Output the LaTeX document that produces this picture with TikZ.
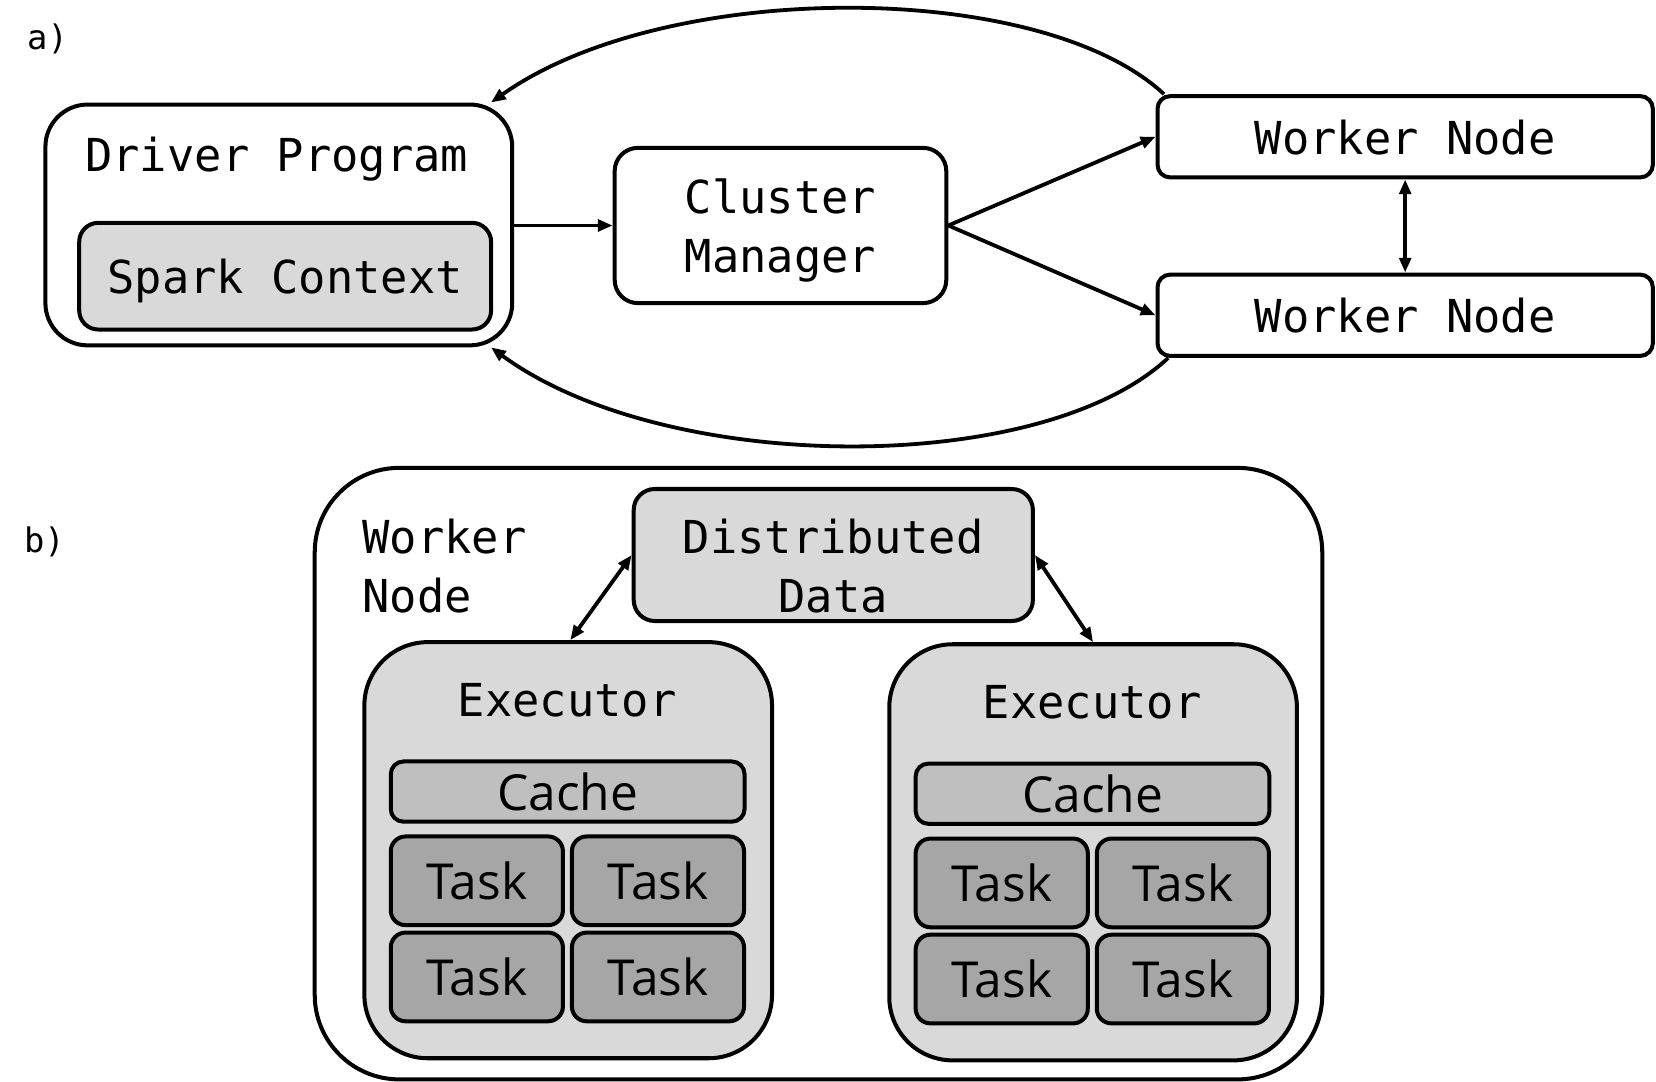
\documentclass[tikz,border=0pt]{standalone}
\usepackage{fontspec}
\usetikzlibrary{arrows.meta}
\setmonofont{DejaVu Sans Mono}
\newfontfamily\cellfont{Open Sans}
\definecolor{light}{RGB}{217,217,217}
\definecolor{mid}{RGB}{191,191,191}
\definecolor{dark}{RGB}{166,166,166}
\begin{document}
\begin{tikzpicture}[x=0.5pt,y=-0.5pt,
	box/.style={draw,line width=1.9pt,inner sep=0pt},
	mono/.style={font=\ttfamily\fontsize{21.5}{28}\selectfont,align=center,text depth=0pt},
	tag/.style={font=\ttfamily\fontsize{16}{18}\selectfont},
	cell/.style={font=\cellfont\fontsize{23.5}{28}\selectfont},
	link/.style={-{Triangle[length=7pt,width=5.5pt]},line width=1.8pt},
	both/.style={{Triangle[length=7pt,width=5.5pt]}-{Triangle[length=7pt,width=5.5pt]},line width=1.8pt}]
	\useasboundingbox (0,0) rectangle (1568,1024);
	% a)
	\node[tag] (tagA) at (45,37) {a)};
	\node[box,rounded corners=20pt,minimum width=221pt,minimum height=114pt] (driver) at (264,213) {};
	\node[mono] (drivertxt) at (262,146) {Driver Program};
	\node[box,fill=light,rounded corners=9pt,minimum width=195pt,minimum height=50.5pt,mono] (spark) at (270,261.5) {Spark Context};
	\node[box,rounded corners=11pt,minimum width=157pt,minimum height=73.5pt,mono] (cluster) at (739,213.5) {Cluster\\Manager};
	\node[box,rounded corners=6pt,minimum width=234.5pt,minimum height=38.5pt,mono] (wtop) at (1330.5,129.5) {Worker Node};
	\node[box,rounded corners=6pt,minimum width=234.5pt,minimum height=38.5pt,mono] (wbot) at (1330.5,298.5) {Worker Node};
	\draw[link] (driver.east|-cluster) -- (cluster.west);
	\draw[link] (cluster.east) -- (wtop.west);
	\draw[link] (cluster.east) -- (wbot.west);
	\draw[both] (wtop.south) -- (wbot.north);
	\draw[link] ([xshift=4pt]wtop.north west)
		..controls (985,-20) and (630,-20).. ([xshift=-11pt]driver.north east);
	\draw[link] ([xshift=6pt]wbot.south west)
		..controls (985,452) and (630,450).. ([xshift=-11pt]driver.south east);
	% b)
	\node[tag] (tagB) at (42,513) {b)};
	\node[box,rounded corners=40pt,minimum width=477pt,minimum height=289.5pt] (wnode) at (775,732.5) {};
	\node[mono,align=left,anchor=west] (wnodetxt) at (336,536) {Worker\\Node};
	\node[box,fill=light,rounded corners=10pt,minimum width=189pt,minimum height=62.5pt] (ddata) at (789,525.5) {};
	\node[mono] (ddatatxt) at (789,536) {Distributed\\Data};
	\foreach \side/\dx/\dy in {L/0/0,R/497/2}{
		\begin{scope}[shift={(\dx,\dy)}]
			\node[box,fill=light,rounded corners=30pt,minimum width=193pt,minimum height=197pt] (exec\side) at (538,805) {};
			\node[mono] (exectxt\side) at (537,663) {Executor};
			\node[box,fill=mid,rounded corners=6pt,minimum width=167.5pt,minimum height=28.5pt,cell] (cache\side) at (537.5,749.5) {Cache};
			\node[box,fill=dark,rounded corners=7pt,minimum width=81.5pt,minimum height=42pt,cell] (task\side a) at (451.5,834) {Task};
			\node[box,fill=dark,rounded corners=7pt,minimum width=81.5pt,minimum height=42pt,cell] (task\side b) at (623,834) {Task};
			\node[box,fill=dark,rounded corners=7pt,minimum width=81.5pt,minimum height=42pt,cell] (task\side c) at (451.5,925) {Task};
			\node[box,fill=dark,rounded corners=7pt,minimum width=81.5pt,minimum height=42pt,cell] (task\side d) at (623,925) {Task};
		\end{scope}
	}
	\draw[both] (ddata.west) -- ([xshift=1pt]execL.north);
	\draw[both] (ddata.east) -- (execR.north);
\end{tikzpicture}
\end{document}
